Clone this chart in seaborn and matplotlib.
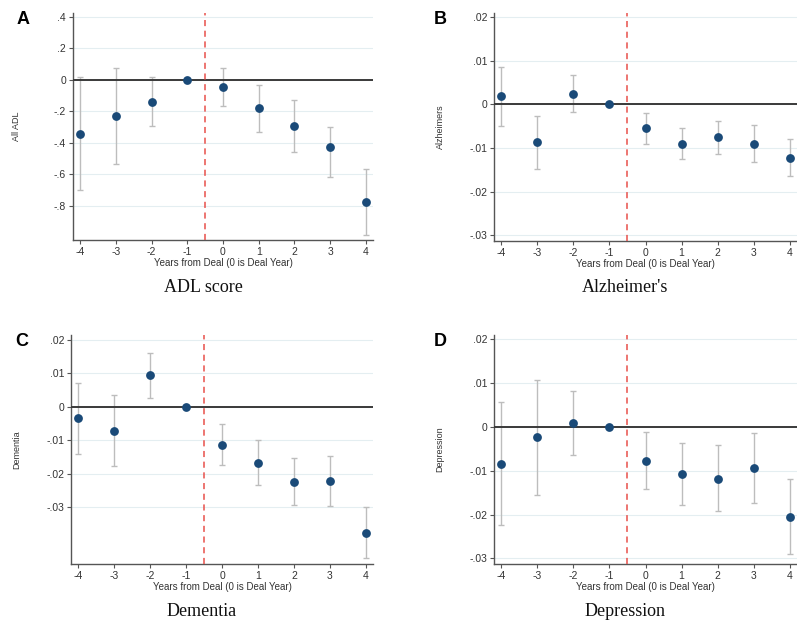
import numpy as np
import pandas as pd
import matplotlib
matplotlib.use("Agg")
import matplotlib.pyplot as plt
import seaborn as sns

years = [-4, -3, -2, -1, 0, 1, 2, 3, 4]

adl_est = [-0.343, -0.229, -0.138, 0.0, -0.042, -0.180, -0.294, -0.428, -0.777]
adl_hi = [0.017, 0.074, 0.021, 0.0, 0.078, -0.032, -0.127, -0.298, -0.565]
adl_lo = [-0.698, -0.535, -0.296, 0.0, -0.165, -0.332, -0.459, -0.614, -0.988]

alz_est = [0.0018, -0.0087, 0.0024, 0.0, -0.0054, -0.0090, -0.0076, -0.0090, -0.0122]
alz_hi = [0.0085, -0.0026, 0.0068, 0.0, -0.0021, -0.0054, -0.0039, -0.0048, -0.0080]
alz_lo = [-0.0049, -0.0148, -0.0018, 0.0, -0.0090, -0.0125, -0.0113, -0.0131, -0.0164]

dem_est = [-0.0035, -0.0072, 0.0094, 0.0, -0.0114, -0.0167, -0.0224, -0.0222, -0.0377]
dem_hi = [0.0072, 0.0035, 0.0161, 0.0, -0.0053, -0.0100, -0.0153, -0.0148, -0.0299]
dem_lo = [-0.0142, -0.0178, 0.0026, 0.0, -0.0175, -0.0235, -0.0295, -0.0297, -0.0453]

dep_est = [-0.0085, -0.0024, 0.0010, 0.0, -0.0077, -0.0107, -0.0118, -0.0094, -0.0205]
dep_hi = [0.0056, 0.0107, 0.0083, 0.0, -0.0011, -0.0037, -0.0042, -0.0014, -0.0120]
dep_lo = [-0.0225, -0.0155, -0.0064, 0.0, -0.0141, -0.0178, -0.0193, -0.0173, -0.0291]

adl_ticks = [0.4, 0.2, 0, -0.2, -0.4, -0.6, -0.8]
adl_ticklabels = [".4", ".2", "0", "-.2", "-.4", "-.6", "-.8"]
small_ticks = [0.02, 0.01, 0, -0.01, -0.02, -0.03]
small_ticklabels = [".02", ".01", "0", "-.01", "-.02", "-.03"]

panels = [
    dict(letter="A", title="ADL score", ylabel="All ADL", est=adl_est, hi=adl_hi, lo=adl_lo,
         ticks=adl_ticks, labels=adl_ticklabels, ylim=(-1.017, 0.425),
         rect=(73, 13, 373, 240), ylab_x=15),
    dict(letter="B", title="Alzheimer's", ylabel="Alzheimers", est=alz_est, hi=alz_hi, lo=alz_lo,
         ticks=small_ticks, labels=small_ticklabels, ylim=(-0.0313, 0.0209),
         rect=(494, 13, 797, 241), ylab_x=439),
    dict(letter="C", title="Dementia", ylabel="Dementia", est=dem_est, hi=dem_hi, lo=dem_lo,
         ticks=small_ticks, labels=small_ticklabels, ylim=(-0.047, 0.0214),
         rect=(71, 335, 373, 564), ylab_x=15),
    dict(letter="D", title="Depression", ylabel="Depression", est=dep_est, hi=dep_hi, lo=dep_lo,
         ticks=small_ticks, labels=small_ticklabels, ylim=(-0.0313, 0.021),
         rect=(494, 335, 797, 564), ylab_x=438),
]

sns.set_theme(style="white")
plt.rcParams['font.family'] = ['Liberation Sans', 'DejaVu Sans']

W, H = 797, 623
fig = plt.figure(figsize=(W / 100, H / 100), dpi=100)
fig.patch.set_facecolor("white")

navy = "#1a4a78"
for p in panels:
    x0, y0, x1, y1 = p["rect"]
    ax = fig.add_axes([x0 / W, 1 - y1 / H, (x1 - x0) / W, (y1 - y0) / H])
    ax.set_facecolor("white")
    df = pd.DataFrame({"year": years, "est": p["est"], "hi": p["hi"], "lo": p["lo"]})
    ax.set_xlim(-4.2, 4.2)
    ax.set_ylim(*p["ylim"])
    for t in p["ticks"]:
        ax.axhline(t, color="#e4eef1", lw=0.8, zorder=0)
    yerr = np.vstack([df["est"] - df["lo"], df["hi"] - df["est"]])
    ax.errorbar(df["year"], df["est"], yerr=yerr, fmt="none", ecolor="#bdbdbd",
                elinewidth=1.0, capsize=2.5, capthick=1.0, zorder=2)
    ax.axhline(0, color="#3a3a3a", lw=1.4, zorder=3)
    ax.axvline(-0.5, color="#e8504a", lw=1.1, ls=(0, (4, 3)), zorder=3)
    sns.scatterplot(data=df, x="year", y="est", ax=ax, color=navy, s=40,
                    edgecolor=navy, linewidth=0, zorder=4, legend=False)
    ax.set_xticks(years)
    ax.set_xticklabels([str(y) for y in years], fontsize=7.5, color="#333333")
    ax.set_yticks(p["ticks"])
    ax.set_yticklabels(p["labels"], fontsize=7.5, color="#333333")
    ax.tick_params(axis="both", length=3, width=0.8, color="#555555", pad=2,
                   bottom=True, left=True)
    for side in ["top", "right"]:
        ax.spines[side].set_visible(False)
    for side in ["left", "bottom"]:
        ax.spines[side].set_color("#555555")
        ax.spines[side].set_linewidth(1.0)
    ax.set_xlabel("Years from Deal (0 is Deal Year)", fontsize=7, color="#333333", labelpad=1)
    ax.set_ylabel(p["ylabel"], fontsize=6.5, color="#333333")
    ax.yaxis.set_label_coords((p["ylab_x"] + 6 - x0) / (x1 - x0), 0.5)
    cx = (x0 + x1) / 2
    fig.text((x0 - 56) / W if p["letter"] in "AC" else (x0 - 60) / W, 1 - (y0 + 6) / H,
             p["letter"], fontsize=13, fontweight="bold", color="black",
             ha="left", va="center")
    fig.text((cx - 20) / W, 1 - (y1 + 47) / H, p["title"], fontsize=13,
             family=["Liberation Serif", "DejaVu Serif"], ha="center", va="center",
             color="#111111")

fig.savefig("out.png", dpi=100, facecolor="white")
